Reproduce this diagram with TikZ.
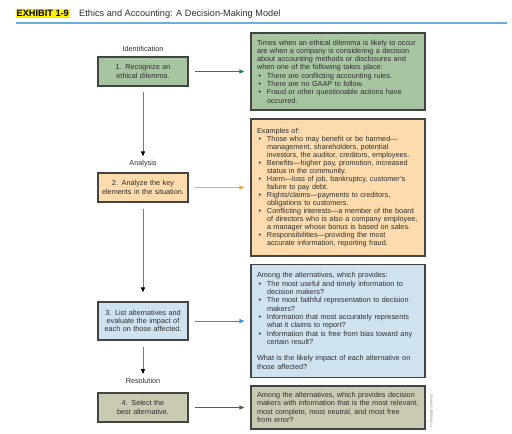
\documentclass[tikz,border=0pt]{standalone}
\usepackage{fontspec}
\setmainfont{Liberation Sans}
\usetikzlibrary{arrows.meta}
\definecolor{gfill}{HTML}{A8C5A2}
\definecolor{ofill}{HTML}{FDDBAC}
\definecolor{bfill}{HTML}{CFE2F0}
\definecolor{tfill}{HTML}{CCC9B2}
\definecolor{bordc}{HTML}{444444}
\definecolor{txtc}{HTML}{2E2E2E}
\definecolor{ca}{HTML}{1F7F6F}
\definecolor{cb}{HTML}{F7A83C}
\definecolor{cc}{HTML}{3B8ED0}
\definecolor{cd}{HTML}{5F5C3C}
\definecolor{vgray}{HTML}{7A7A7A}
\definecolor{rulec}{HTML}{6AAEDC}
\definecolor{hl}{HTML}{FFF200}
\newcommand{\nl}{\hfil\break}
\newcommand{\bitm}{\par\hangindent=10pt\hangafter=1\noindent\hbox to 10pt{\hspace{1.5pt}\textbullet\hss}}
\tikzset{
  txt/.style={font=\fontsize{7.3}{8.3}\selectfont, text=txtc},
  lbox/.style={txt, draw=bordc, line width=1.2pt, minimum width=90pt, text width=86pt, align=center, inner sep=0pt},
  rbox/.style={txt, draw=bordc, line width=1.2pt, text width=162pt, inner xsep=6pt, inner ysep=0pt},
  lab/.style={txt, inner sep=0pt},
  harr/.style={line width=0.9pt, -{Triangle[length=5pt,width=4pt]}},
  varr/.style={draw=vgray, line width=1pt, -{Triangle[length=5pt,width=4pt,color=black]}},
}
\begin{document}
\begin{tikzpicture}[x=1pt,y=-1pt]
\useasboundingbox (0,0) rectangle (512,434);
% title
\node (exh) [fill=hl, inner xsep=1pt, inner ysep=1.5pt, font=\bfseries\fontsize{9.2}{10}\selectfont, text=black, anchor=base west] at (15.5,16.5) {EXHIBIT 1-9};
\node (ttl) [font=\fontsize{9.2}{10}\selectfont, text=txtc, inner sep=0pt, anchor=base west] at (79,16.5) {Ethics and Accounting: A Decision-Making Model};
\draw[rulec, line width=2.5pt] (16,23) -- (507,23);
% left boxes
\node (lab1) [lab] at (143,49) {Identification};
\node (l1) [lbox, fill=gfill, minimum height=29pt] at (143,71.5) {1. Recognize an\\ethical dilemma.};
\node (lab2) [lab] at (143,164) {Analysis};
\node (l2) [lbox, fill=ofill, minimum height=29pt] at (143,187.5) {2. Analyze the key\\elements in the situation.};
\node (l3) [lbox, fill=bfill, minimum height=38pt] at (143,321) {3. List alternatives and\\evaluate the impact of\\each on those affected.};
\node (lab4) [lab] at (143,381) {Resolution};
\node (l4) [lbox, fill=tfill, minimum height=29pt] at (143,407.5) {4. Select the\\best alternative.};
% right boxes
\node (r1) [rbox, fill=gfill, minimum height=77pt] at (338,71.5) {\noindent Times when an ethical dilemma is likely to occur\nl are when a company is considering a decision\nl about accounting methods or disclosures and\nl when one of the following takes place:
\bitm There are conflicting accounting rules.
\bitm There are no GAAP to follow.
\bitm Fraud or other questionable actions have\nl occurred.\par};
\node (r2) [rbox, fill=ofill, minimum height=137pt, font=\fontsize{7.3}{8.0}\selectfont] at (338,187.5) {\noindent Examples of:
\bitm Those who may benefit or be harmed—\nl management, shareholders, potential\nl investors, the auditor, creditors, employees.
\bitm Benefits—higher pay, promotion, increased\nl status in the community.
\bitm Harm—loss of job, bankruptcy, customer’s\nl failure to pay debt.
\bitm Rights/claims—payments to creditors,\nl obligations to customers.
\bitm Conflicting interests—a member of the board\nl of directors who is also a company employee,\nl a manager whose bonus is based on sales.
\bitm Responsibilities—providing the most\nl accurate information, reporting fraud.\par};
\node (r3) [rbox, fill=bfill, minimum height=113pt] at (338,321) {\noindent Among the alternatives, which provides:
\bitm The most useful and timely information to\nl decision makers?
\bitm The most faithful representation to decision\nl makers?
\bitm Information that most accurately represents\nl what it claims to report?
\bitm Information that is free from bias toward any\nl certain result?
\par\vskip 8.3pt\noindent What is the likely impact of each alternative on\nl those affected?\par};
\node (r4) [rbox, fill=tfill, minimum height=43pt] at (338,407.5) {\noindent Among the alternatives, which provides decision\nl makers with information that is the most relevant,\nl most complete, most neutral, and most free\nl from error?\par};
\node (copy) [rotate=90, font=\fontsize{3.6}{4}\selectfont, text=gray, inner sep=0pt] at (431.5,411) {© Cengage Learning};
% connectors
\draw[harr, draw=ca, color=ca] ([xshift=6pt]l1.east) -- ([xshift=-6pt]r1.west);
\draw[harr, draw=cb, color=cb] ([xshift=6pt]l2.east) -- ([xshift=-6pt]r2.west);
\draw[harr, draw=cc, color=cc] ([xshift=6pt]l3.east) -- ([xshift=-6pt]r3.west);
\draw[harr, draw=cd, color=cd] ([xshift=6pt]l4.east) -- ([xshift=-6pt]r4.west);
\draw[varr] ([yshift=-5pt]l1.south) -- ([yshift=4pt]lab2.north);
\draw[varr] ([yshift=-6pt]l2.south) -- ([yshift=9pt]l3.north);
\draw[varr] ([yshift=-6pt]l3.south) -- ([yshift=4pt]lab4.north);
\end{tikzpicture}
\end{document}
